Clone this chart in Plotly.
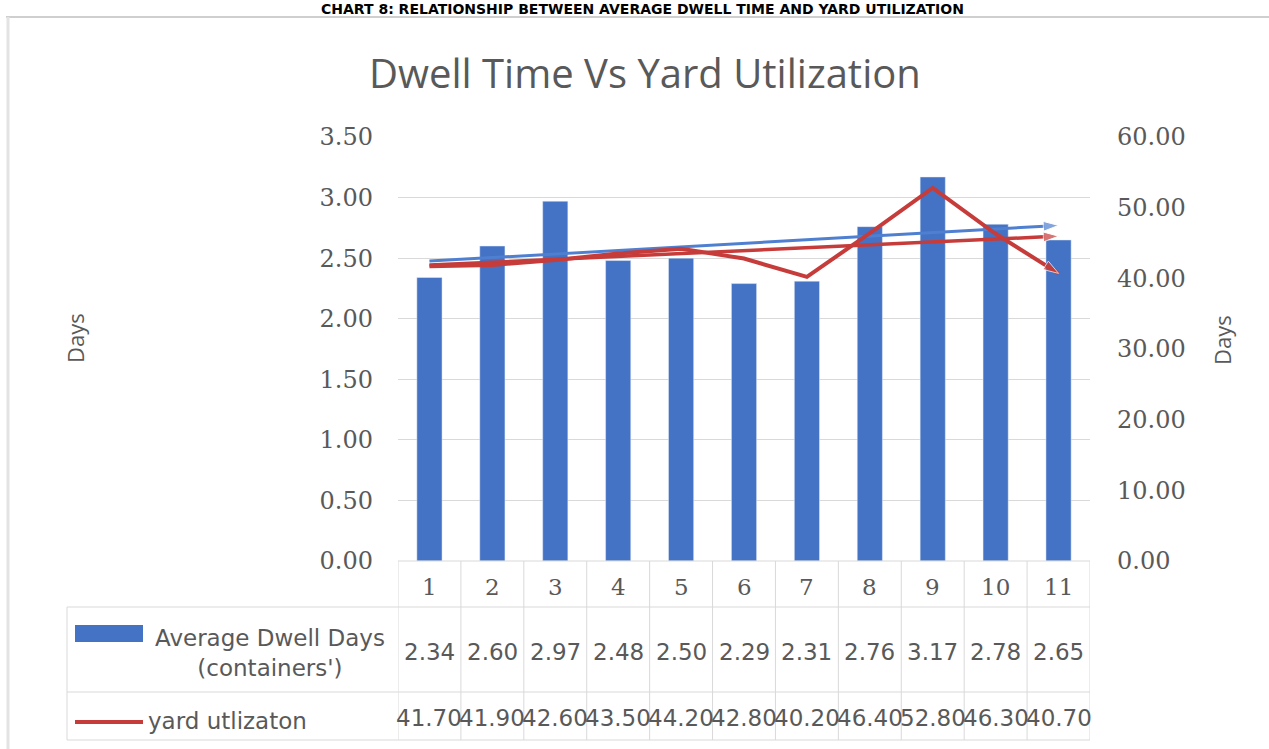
import numpy as np
import plotly.graph_objects as go

W, H = 1269, 749

categories = ["1", "2", "3", "4", "5", "6", "7", "8", "9", "10", "11"]
dwell_days = [2.34, 2.60, 2.97, 2.48, 2.50, 2.29, 2.31, 2.76, 3.17, 2.78, 2.65]
yard_util = [41.70, 41.90, 42.60, 43.50, 44.20, 42.80, 40.20, 46.40, 52.80, 46.30, 40.70]
series_names = ["Average Dwell Days<br>(containers')", "yard utlizaton"]
heading = "CHART 8: RELATIONSHIP BETWEEN AVERAGE DWELL TIME AND YARD UTILIZATION"
chart_title = "Dwell Time Vs Yard Utilization"
left_ticks = [0, 0.5, 1.0, 1.5, 2.0, 2.5, 3.0, 3.5]
right_ticks = [0, 10, 20, 30, 40, 50, 60]

BLUE = "#4472C4"
BLUE_TR = "#4F7FD0"
RED = "#C63C3A"
GRAY_TXT = "#595959"
GRID = "#D9D9D9"


def px(x):
    return x / W


def py(y):
    return 1 - y / H


# linear trendlines computed from the data
idx = np.arange(1, len(categories) + 1)
b_trend = np.polyval(np.polyfit(idx, dwell_days, 1), idx)
r_trend = np.polyval(np.polyfit(idx, yard_util, 1), idx)

n = len(categories)
arrow_sym = ["circle"] * (n - 1) + ["arrow"]
arrow_size = [0] * (n - 1) + [16]

fig = go.Figure()
fig.add_trace(go.Bar(x=categories, y=dwell_days, marker_color=BLUE, width=0.4,
                     name="Average Dwell Days (containers')", yaxis="y"))
fig.add_trace(go.Scatter(x=categories, y=b_trend, mode="lines+markers", yaxis="y",
                         line=dict(color=BLUE_TR, width=3),
                         marker=dict(symbol=arrow_sym, size=arrow_size,
                                     angleref="previous", color=BLUE_TR),
                         name="trend dwell"))
fig.add_trace(go.Scatter(x=categories, y=r_trend, mode="lines+markers", yaxis="y2",
                         line=dict(color=RED, width=3.5),
                         marker=dict(symbol=arrow_sym, size=arrow_size,
                                     angleref="previous", color=RED),
                         name="trend yard"))
fig.add_trace(go.Scatter(x=categories, y=yard_util, mode="lines+markers", yaxis="y2",
                         line=dict(color=RED, width=4),
                         marker=dict(symbol=arrow_sym, size=arrow_size,
                                     angleref="previous", color=RED),
                         name="yard utlizaton"))

x0p, x1p = 398, 1090
y0p, y1p = 561, 137

fig.update_layout(
    width=W, height=H,
    margin=dict(l=0, r=0, t=0, b=0, autoexpand=False),
    paper_bgcolor="white", plot_bgcolor="white",
    showlegend=False,
    xaxis=dict(domain=[px(x0p), px(x1p)], type="category", showticklabels=False,
               showgrid=False, zeroline=False, showline=False, ticks="",
               range=[-0.5, n - 0.5], automargin=False),
    yaxis=dict(domain=[py(y0p), py(y1p)], range=[0, 3.5], tickvals=left_ticks,
               tickformat=".2f", showgrid=True, gridcolor=GRID, gridwidth=1,
               zeroline=False, showline=False, ticks="", automargin=False,
               ticklabelstandoff=24,
               tickfont=dict(family="DejaVu Serif", size=24, color=GRAY_TXT)),
    yaxis2=dict(overlaying="y", side="right", range=[0, 60], tickvals=right_ticks,
                tickformat=".2f", showgrid=False, zeroline=False, showline=False,
                ticks="", ticklabelstandoff=26, automargin=False,
                tickfont=dict(family="DejaVu Serif", size=24, color=GRAY_TXT)),
)

shapes = []
# outer frame
shapes.append(dict(type="line", xref="paper", yref="paper", x0=px(6), x1=px(W), y0=py(17), y1=py(17),
                   line=dict(color="#CFCFCF", width=2)))
shapes.append(dict(type="line", xref="paper", yref="paper", x0=px(8), x1=px(8), y0=py(17), y1=py(H),
                   line=dict(color="#E3E3E3", width=3)))
# bottom baseline of plot
shapes.append(dict(type="line", xref="paper", yref="paper", x0=px(x0p), x1=px(x1p), y0=py(561), y1=py(561),
                   line=dict(color=GRID, width=1)))
# table horizontal lines
for yy in [607, 692, 740]:
    shapes.append(dict(type="line", xref="paper", yref="paper", x0=px(67), x1=px(x1p), y0=py(yy), y1=py(yy),
                       line=dict(color=GRID, width=1)))
# table left edge
shapes.append(dict(type="line", xref="paper", yref="paper", x0=px(67), x1=px(67), y0=py(607), y1=py(740),
                   line=dict(color=GRID, width=1)))
# table vertical column lines (on category index scale)
for k in range(n + 1):
    shapes.append(dict(type="line", xref="x", yref="paper", x0=k - 0.5, x1=k - 0.5, y0=py(561), y1=py(740),
                       line=dict(color=GRID, width=1)))
# legend keys
shapes.append(dict(type="rect", xref="paper", yref="paper", x0=px(75), x1=px(143), y0=py(642), y1=py(625),
                   fillcolor=BLUE, line=dict(width=0)))
shapes.append(dict(type="line", xref="paper", yref="paper", x0=px(75), x1=px(143), y0=py(722), y1=py(722),
                   line=dict(color=RED, width=4)))
fig.update_layout(shapes=shapes)

ann = []
ann.append(dict(text="<b>" + heading + "</b>", xref="paper", yref="paper", x=px(643), y=py(8.5),
                xanchor="center", yanchor="middle", showarrow=False, borderpad=0,
                font=dict(family="DejaVu Sans", size=14, color="black")))
ann.append(dict(text=chart_title, xref="paper", yref="paper", x=px(645), y=py(72),
                xanchor="center", yanchor="middle", showarrow=False,
                font=dict(family="Open Sans", size=40, color=GRAY_TXT)))
ann.append(dict(text="Days", xref="paper", yref="paper", x=px(75), y=py(338), textangle=-90,
                xanchor="center", yanchor="middle", showarrow=False,
                font=dict(family="Open Sans", size=22, color=GRAY_TXT)))
ann.append(dict(text="Days", xref="paper", yref="paper", x=px(1222), y=py(340), textangle=-90,
                xanchor="center", yanchor="middle", showarrow=False,
                font=dict(family="Open Sans", size=22, color=GRAY_TXT)))
# legend texts in table
ann.append(dict(text=series_names[0], xref="paper", yref="paper", x=px(270), y=py(653),
                xanchor="center", yanchor="middle", align="center", showarrow=False,
                font=dict(family="DejaVu Sans", size=23, color=GRAY_TXT)))
ann.append(dict(text=series_names[1], xref="paper", yref="paper", x=px(146), y=py(721),
                xanchor="left", yanchor="middle", showarrow=False,
                font=dict(family="DejaVu Sans", size=23, color=GRAY_TXT)))
for i, (c, d, u) in enumerate(zip(categories, dwell_days, yard_util)):
    ann.append(dict(text=c, xref="x", yref="paper", x=i, y=py(587), xanchor="center", yanchor="middle",
                    showarrow=False, font=dict(family="DejaVu Serif", size=23, color=GRAY_TXT)))
    ann.append(dict(text=f"{d:.2f}", xref="x", yref="paper", x=i, y=py(652), xanchor="center",
                    yanchor="middle", showarrow=False,
                    font=dict(family="DejaVu Sans", size=23, color=GRAY_TXT)))
    ann.append(dict(text=f"{u:.2f}", xref="x", yref="paper", x=i, y=py(718), xanchor="center",
                    yanchor="middle", showarrow=False,
                    font=dict(family="DejaVu Sans", size=23, color=GRAY_TXT)))
fig.update_layout(annotations=ann)

fig.write_html("out.html")
